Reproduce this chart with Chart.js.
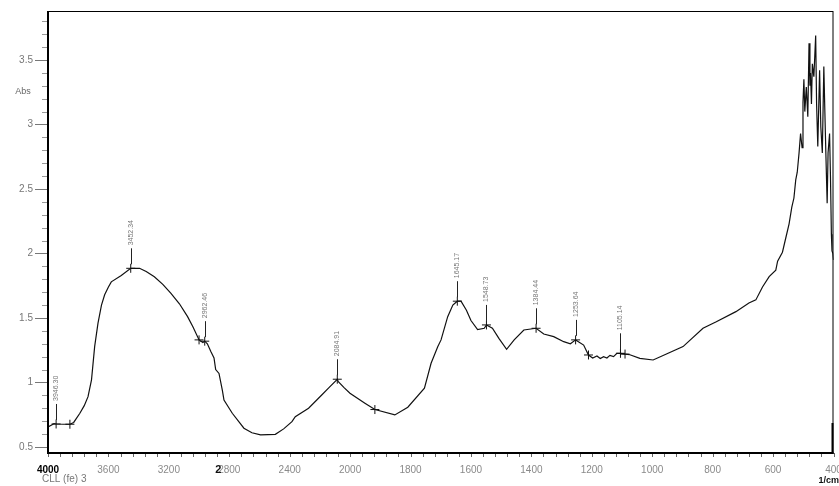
<!DOCTYPE html>
<html>
<head>
<meta charset="utf-8">
<script src="https://cdn.jsdelivr.net/npm/chart.js@4/dist/chart.umd.min.js"></script>
<style>
  html, body { margin: 0; padding: 0; background: #fff; }
  canvas { display: block; }
</style>
</head>
<body>
<canvas id="ir" width="839" height="486"></canvas>
<script>
// IR spectrum, wavenumber (1/cm) vs absorbance
const wavenumbers = [
  4000, 3985, 3960, 3946.30, 3900, 3855, 3830, 3789, 3760, 3735, 3712, 3691, 3669, 3646, 3625, 3600,
  3581, 3515, 3452.34, 3420, 3394, 3350, 3296, 3240, 3186, 3130, 3076, 3040, 3000, 2975, 2962.46,
  2945, 2922, 2901, 2890, 2868, 2846, 2835, 2780, 2703, 2650, 2593, 2495, 2440, 2385, 2363, 2275,
  2188, 2140, 2084.91, 2078, 2040, 2001, 1951, 1918, 1852, 1809, 1754, 1732, 1710, 1699, 1677, 1660,
  1645.17, 1633, 1615, 1600, 1578, 1556, 1548.73, 1529, 1507, 1482, 1457, 1425, 1384.44, 1359, 1326,
  1293, 1271, 1253.64, 1227, 1211, 1197, 1183, 1172, 1161, 1150, 1140, 1128, 1117, 1105.14, 1090, 1074,
  1041, 997, 953, 898, 832, 788, 723, 680, 657, 635, 613, 591, 585, 569, 558, 547, 538, 531, 525,
  520, 514, 509, 504, 501, 498, 495, 490, 485, 481, 478, 476, 473, 470, 465, 459, 456, 452, 446, 442,
  437, 432, 429, 425, 421, 418, 413, 410, 407, 405, 402, 400
];
const absorbance = [
  0.655, 0.665, 0.68, 0.678, 0.676, 0.676, 0.69, 0.761, 0.82, 0.89, 1.02, 1.28, 1.46, 1.60, 1.68, 1.74,
  1.78, 1.83, 1.885, 1.885, 1.885, 1.86, 1.82, 1.76, 1.69, 1.61, 1.51, 1.43, 1.33, 1.31, 1.32,
  1.30, 1.24, 1.19, 1.10, 1.07, 0.94, 0.864, 0.761, 0.645, 0.61, 0.593, 0.598, 0.64, 0.696, 0.735, 0.80,
  0.903, 0.96, 1.025, 1.006, 0.96, 0.916, 0.839, 0.79, 0.748, 0.808, 0.955, 1.149, 1.277, 1.33, 1.51, 1.60,
  1.63, 1.63, 1.56, 1.48, 1.41, 1.42, 1.446, 1.42, 1.34, 1.257, 1.33, 1.407, 1.42, 1.376, 1.355,
  1.316, 1.30, 1.33, 1.29, 1.213, 1.19, 1.205, 1.185, 1.20, 1.19, 1.21, 1.20, 1.226, 1.226, 1.22, 1.215,
  1.187, 1.174, 1.22, 1.278, 1.42, 1.47, 1.549, 1.616, 1.64, 1.74, 1.82, 1.87, 1.94, 2.01, 2.12, 2.23, 2.36, 2.43, 2.57,
  2.63, 2.78, 2.93, 2.82, 3.17, 3.35, 3.10, 3.29, 3.06, 3.63, 3.30, 3.40, 3.16, 3.47, 3.37, 3.69, 3.16, 2.83, 3.42, 2.98,
  2.78, 3.45, 3.14, 2.75, 2.39, 2.78, 2.93, 2.59, 2.15, 2.02, 2.0, 1.95
];

// picked peaks
const peakWavenumbers = [3946.30, 3452.34, 2962.46, 2084.91, 1645.17, 1548.73, 1384.44, 1253.64, 1105.14];
const peakAbsorbance  = [0.678, 1.885, 1.32, 1.025, 1.63, 1.446, 1.42, 1.33, 1.226];
const peakLabels = ['3946.30', '3452.34', '2962.46', '2084.91', '1645.17', '1548.73', '1384.44', '1253.64', '1105.14'];
// unlabelled cursor marks on the trace
const markWavenumbers = [3855, 3000, 1918, 1211, 1090];
const markAbsorbance  = [0.676, 1.33, 0.79, 1.213, 1.22];

const xTickLabels = ['4000', '3600', '3200', '2800', '2400', '2000', '1800', '1600', '1400', '1200', '1000', '800', '600', '400'];
const yTickValues = [0.5, 1, 1.5, 2, 2.5, 3, 3.5];

// the wavenumber axis is compressed 2:1 above 2000 1/cm
function axisPos(w) {
  return w >= 2000 ? (4000 - w) / 400 : 5 + (2000 - w) / 200;
}

const trace = wavenumbers.map((w, i) => ({ x: axisPos(w), y: absorbance[i] }));
const peaks = peakWavenumbers.map((w, i) => ({ x: axisPos(w), y: peakAbsorbance[i] }));
const marks = markWavenumbers.map((w, i) => ({ x: axisPos(w), y: markAbsorbance[i] }));

const decor = {
  id: 'decor',
  afterDraw(chart) {
    const { ctx, chartArea: a, scales: { x, y } } = chart;
    ctx.save();
    const seg = (x1, y1, x2, y2) => { ctx.beginPath(); ctx.moveTo(x1, y1); ctx.lineTo(x2, y2); ctx.stroke(); };

    // x tick marks, five per labelled step
    ctx.strokeStyle = '#666';
    ctx.lineWidth = 1;
    for (let i = 0; i <= 65; i++) {
      const px = Math.round(x.getPixelForValue(i / 5)) + 0.5;
      seg(px, a.bottom, px, a.bottom + 4);
    }
    // y tick marks every 0.1
    for (let k = 5; k <= 38; k++) {
      const py = Math.round(y.getPixelForValue(k / 10)) + 0.5;
      const major = k % 5 === 0;
      ctx.strokeStyle = major ? '#777' : '#999';
      seg(a.left - (major ? 13 : 6), py, a.left, py);
    }

    // frame
    ctx.strokeStyle = '#000';
    ctx.lineWidth = 1;
    ctx.strokeRect(a.left + 0.5, a.top + 0.5, a.right - a.left - 1, a.bottom - a.top);
    ctx.lineWidth = 2;
    seg(a.left, a.top, a.left, a.bottom + 1);
    seg(a.left, a.bottom, a.right, a.bottom);
    seg(a.right - 1, a.bottom - 30, a.right - 1, a.bottom + 1);

    // peak pick lines and labels
    ctx.lineWidth = 1;
    ctx.font = '7px "Liberation Sans", Arial, sans-serif';
    ctx.textBaseline = 'middle';
    ctx.textAlign = 'left';
    peaks.forEach((p, i) => {
      const px = Math.round(x.getPixelForValue(p.x)) + 0.5;
      const py = y.getPixelForValue(p.y);
      ctx.strokeStyle = '#222';
      seg(px, py - 4, px, py - 20);
      ctx.save();
      ctx.translate(px, py - 23);
      ctx.rotate(-Math.PI / 2);
      ctx.fillStyle = '#777';
      ctx.fillText(peakLabels[i], 0, 0);
      ctx.restore();
    });

    // axis annotations
    ctx.fillStyle = '#666';
    ctx.font = '9px "Liberation Sans", Arial, sans-serif';
    ctx.textAlign = 'center';
    ctx.fillText('Abs', 23, 92);
    ctx.fillStyle = '#777';
    ctx.font = '10px "Liberation Sans", Arial, sans-serif';
    ctx.textAlign = 'left';
    ctx.fillText('CLL (fe) 3', 42, 479);
    ctx.fillStyle = '#111';
    ctx.font = 'bold 9px "Liberation Sans", Arial, sans-serif';
    ctx.textAlign = 'right';
    ctx.fillText('1/cm', 839, 481);
    ctx.font = 'bold 11px "Liberation Sans", Arial, sans-serif';
    ctx.textAlign = 'center';
    ctx.fillText('2', x.getPixelForValue(3) - 11, 470);
    ctx.restore();
  }
};

Chart.defaults.font.family = '"Liberation Sans", Arial, sans-serif';

new Chart(document.getElementById('ir'), {
  type: 'scatter',
  data: {
    datasets: [
      {
        data: trace,
        showLine: true,
        borderColor: '#111',
        borderWidth: 1.2,
        pointRadius: 0,
        tension: 0,
        order: 2
      },
      {
        data: peaks.concat(marks),
        showLine: false,
        pointStyle: 'cross',
        pointRadius: 4.5,
        borderColor: '#111',
        borderWidth: 1,
        order: 1
      }
    ]
  },
  options: {
    responsive: false,
    animation: false,
    devicePixelRatio: 1,
    layout: { padding: { top: 11, right: 1, left: 0, bottom: 0 } },
    plugins: { legend: { display: false }, tooltip: { enabled: false } },
    scales: {
      x: {
        type: 'linear',
        min: 0,
        max: 13,
        afterFit: s => { s.height = 33; s.paddingLeft = 0; s.paddingRight = 0; },
        afterBuildTicks: s => { s.ticks = xTickLabels.map((_, i) => ({ value: i })); },
        grid: { display: false, drawTicks: false },
        border: { display: false },
        ticks: {
          autoSkip: false,
          maxRotation: 0,
          padding: 11,
          callback: v => xTickLabels[Math.round(v)] ?? '',
          color: c => c.index === 0 ? '#000' : '#8a8a8a',
          font: c => c.index === 0 ? { size: 10, weight: 'bold' } : { size: 10 }
        }
      },
      y: {
        type: 'linear',
        min: 0.453,
        max: 3.88,
        afterFit: s => { s.width = 48; s.paddingTop = 0; s.paddingBottom = 0; },
        afterBuildTicks: s => { s.ticks = yTickValues.map(v => ({ value: v })); },
        grid: { display: false, drawTicks: false },
        border: { display: false },
        ticks: {
          padding: 15,
          color: '#777',
          font: { size: 10 },
          callback: v => String(v)
        }
      }
    }
  },
  plugins: [decor]
});
</script>
</body>
</html>
